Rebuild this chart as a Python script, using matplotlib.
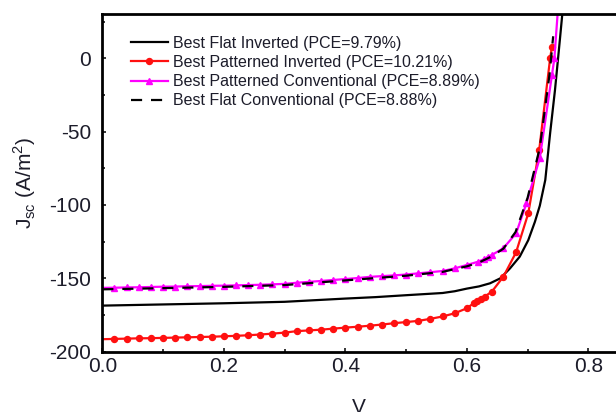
import matplotlib
matplotlib.use("Agg")
import matplotlib.pyplot as plt
from matplotlib.ticker import MultipleLocator, FormatStrFormatter

plt.rcParams['font.family'] = ['Liberation Sans', 'DejaVu Sans']
plt.rcParams['axes.unicode_minus'] = False
plt.rcParams['mathtext.fontset'] = 'custom'
plt.rcParams['mathtext.rm'] = 'Liberation Sans'

# J-V curves of the best devices (V in volts, J in A/m^2)
v_flat_inv = [0.00, 0.10, 0.20, 0.30, 0.40, 0.45, 0.50, 0.52, 0.56, 0.58,
              0.60, 0.62, 0.638, 0.655, 0.671, 0.687, 0.701, 0.712, 0.720, 0.729,
              0.737, 0.745, 0.753, 0.757]
j_flat_inv = [-168.6, -167.8, -167.0, -166.0, -163.8, -162.8, -161.5, -161.0, -160.0, -158.8,
              -157.0, -155.5, -153.4, -150.0, -143.2, -135.2, -124.0, -111.4, -100.5, -83.0,
              -51.0, -21.6, 12.5, 30.0]

v_pat_inv = [0.00, 0.02, 0.04, 0.06, 0.08, 0.10, 0.12, 0.14, 0.16, 0.18,
             0.20, 0.22, 0.24, 0.26, 0.28, 0.30, 0.32, 0.34, 0.36, 0.38,
             0.40, 0.42, 0.44, 0.46, 0.48, 0.50, 0.52, 0.54, 0.56, 0.58,
             0.60, 0.611, 0.617, 0.623, 0.629, 0.641, 0.660, 0.681, 0.701, 0.719,
             0.737, 0.740]
j_pat_inv = [-191.5, -191.3, -191.1, -190.9, -190.8, -190.6, -190.4, -190.2, -190.0, -189.8,
             -189.5, -189.2, -188.8, -188.3, -187.7, -187.0, -186.0, -185.5, -185.0, -184.3,
             -183.6, -183.0, -182.3, -181.5, -180.6, -179.8, -179.0, -177.6, -176.0, -173.8,
             -170.4, -167.0, -165.4, -164.1, -162.5, -159.1, -148.9, -132.2, -105.7, -62.5,
             0.0, 8.0]

v_pat_conv = [0.00, 0.02, 0.04, 0.06, 0.08, 0.10, 0.12, 0.14, 0.16, 0.18,
              0.20, 0.22, 0.24, 0.26, 0.28, 0.30, 0.32, 0.34, 0.36, 0.38,
              0.40, 0.42, 0.44, 0.46, 0.48, 0.50, 0.52, 0.54, 0.56, 0.58,
              0.60, 0.619, 0.628, 0.635, 0.641, 0.660, 0.681, 0.698, 0.720, 0.740,
              0.744, 0.751]
j_pat_conv = [-156.5, -156.4, -156.2, -156.1, -155.9, -155.7, -155.6, -155.4, -155.3, -155.1,
              -155.0, -154.8, -154.6, -154.4, -154.1, -153.8, -153.0, -152.4, -151.8, -151.1,
              -150.5, -149.8, -149.0, -148.5, -148.0, -147.4, -146.6, -145.8, -145.0, -143.2,
              -140.9, -138.6, -137.0, -135.2, -134.1, -129.5, -119.3, -98.8, -68.0, -11.4,
              0.0, 40.0]

v_flat_conv = [0.00, 0.10, 0.20, 0.30, 0.40, 0.50, 0.56, 0.60, 0.62, 0.64,
               0.66, 0.68, 0.70, 0.72, 0.736, 0.742]
j_flat_conv = [-157.5, -156.7, -155.8, -154.6, -151.4, -148.2, -145.6, -141.8, -139.2, -135.2,
               -129.8, -118.5, -95.0, -61.0, -11.0, 15.0]

labels = ["Best Flat Inverted (PCE=9.79%)",
          "Best Patterned Inverted (PCE=10.21%)",
          "Best Patterned Conventional (PCE=8.89%)",
          "Best Flat Conventional (PCE=8.88%)"]

x_ticks = [0.0, 0.2, 0.4, 0.6, 0.8]
y_ticks = [-200, -150, -100, -50, 0]

fig = plt.figure(figsize=(6.16, 4.12), dpi=100)
ax = fig.add_axes([0.1661, 0.1464, 0.834, 0.8197])

ax.plot(v_flat_inv, j_flat_inv, color='black', lw=1.6, label=labels[0])
ax.plot(v_pat_inv, j_pat_inv, color='#ff1010', lw=1.6, marker='o', ms=4.3,
        markevery=slice(1, None), label=labels[1])
ax.plot(v_pat_conv, j_pat_conv, color='#ff00ff', lw=1.6, marker='^', ms=5,
        markevery=slice(1, None), label=labels[2])
ax.plot(v_flat_conv, j_flat_conv, color='black', lw=1.6, dashes=(5, 4), label=labels[3])

ax.set_xlim(0, 0.8455)
ax.set_ylim(-200, 30.2)
ax.set_xticks(x_ticks)
ax.set_yticks(y_ticks)
ax.xaxis.set_minor_locator(MultipleLocator(0.1))
ax.yaxis.set_minor_locator(MultipleLocator(25))
ax.xaxis.set_major_formatter(FormatStrFormatter('%.1f'))

txt = '#1c1c2a'
ax.tick_params(which='both', direction='in', top=False, right=False, width=1.1,
               labelsize=15, labelcolor=txt)
ax.tick_params(axis='x', which='major', length=3.2, pad=4)
ax.tick_params(axis='y', which='major', length=3.2, pad=8)
ax.tick_params(which='minor', length=2)

for side in ['left', 'bottom', 'top']:
    ax.spines[side].set_linewidth(2)
ax.spines['right'].set_visible(False)

ax.set_xlabel('V', fontsize=15, color=txt, labelpad=16)
ax.set_ylabel(r'J$_{\mathregular{sc}}$ (A/m$^{\mathregular{2}}$)', fontsize=15,
              color=txt, labelpad=8)

ax.legend(loc='upper left', bbox_to_anchor=(0.0559, 0.935), frameon=False,
          fontsize=11.5, handlelength=2.3, handletextpad=0.3, labelspacing=0.26,
          borderpad=0, borderaxespad=0, labelcolor=txt)

fig.savefig('out.png', dpi=100)
